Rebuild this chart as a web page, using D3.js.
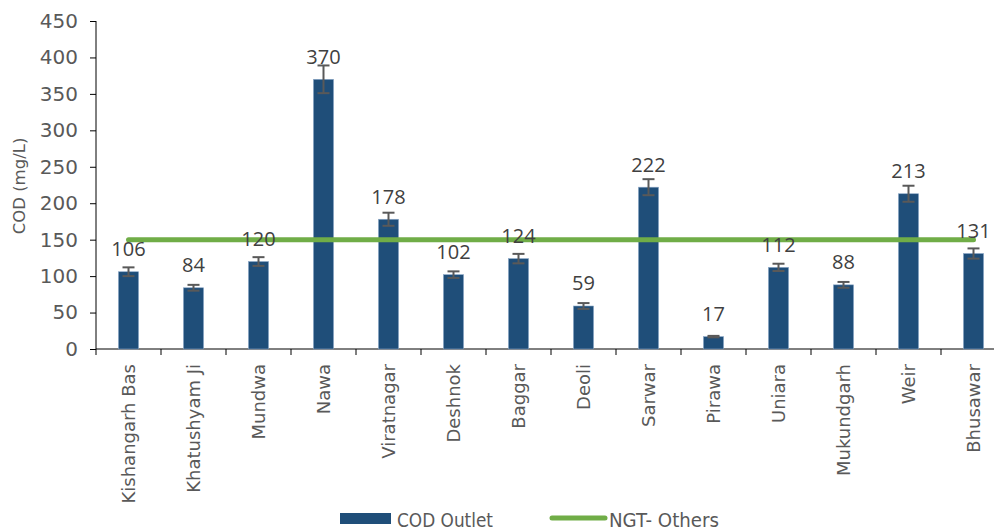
<!DOCTYPE html>
<html><head><meta charset="utf-8">
<script src="https://cdn.jsdelivr.net/npm/d3@7"></script>
<style>
body{margin:0;background:#fff;}
svg{display:block;}
</style></head>
<body>
<svg id="chart" width="994" height="530"></svg>
<script>
const categories = ["Kishangarh Bas","Khatushyam Ji","Mundwa","Nawa","Viratnagar","Deshnok","Baggar","Deoli","Sarwar","Pirawa","Uniara","Mukundgarh","Weir","Bhusawar"];
const codOutlet = [106,84,120,370,178,102,124,59,222,17,112,88,213,131];
const codError = [6,4,6,19,9,4.5,6.5,4,11,1,5,4,11,7];
const ngtOthers = [150,150,150,150,150,150,150,150,150,150,150,150,150,150];
const yTicks = [0,50,100,150,200,250,300,350,400,450];

const svg = d3.select("#chart");
const font = "'DejaVu Sans', sans-serif";
const vfont = "'Open Sans', sans-serif";
const x = d3.scaleBand().domain(categories).range([96,1006]).paddingInner(0.69).paddingOuter(0.345);
const y = d3.scaleLinear().domain([0,450]).range([349,21]);

// y axis
const ya = svg.append("g").attr("transform","translate(96,0)")
  .call(d3.axisLeft(y).tickValues(yTicks).tickSize(6).tickPadding(12));
ya.select(".domain").attr("stroke","#000").attr("d","M-0,21V349");
ya.selectAll(".tick line").attr("stroke","#000");
ya.selectAll(".tick text").attr("font-family",font).attr("font-size",20).attr("fill","#595959");

// x axis
const xPos = d3.scaleLinear().domain([0,14]).range([96,1006]);
const xa = svg.append("g").attr("transform","translate(0,349)")
  .call(d3.axisBottom(x).tickSize(0).tickPadding(0));
xa.select(".domain").attr("stroke","#000").attr("d","M96,0H1006");
xa.selectAll(".tick text").attr("font-family",font).attr("font-size",18).attr("fill","#595959")
  .attr("transform","rotate(-90)").attr("text-anchor","end").attr("x",-15).attr("y",0).attr("dy","0.35em");
svg.append("g").selectAll("line").data(d3.range(15)).join("line")
  .attr("x1",d=>xPos(d)).attr("x2",d=>xPos(d)).attr("y1",349).attr("y2",355).attr("stroke","#000");

// y label
svg.append("text").attr("transform","translate(25,186) rotate(-90)").attr("text-anchor","middle")
  .attr("font-family",font).attr("font-size",16.5).attr("fill","#595959").text("COD (mg/L)");

// bars
svg.append("g").selectAll("rect").data(categories).join("rect")
  .attr("x",d=>x(d)).attr("width",x.bandwidth())
  .attr("y",(d,i)=>y(codOutlet[i])).attr("height",(d,i)=>y(0)-y(codOutlet[i]))
  .attr("fill","#1F4E79").attr("stroke","#8EA9C8").attr("stroke-width",0.6);

// error bars
const eg = svg.append("g").attr("stroke","#595959").attr("stroke-width",2);
categories.forEach((c,i)=>{
  const cx = x(c)+x.bandwidth()/2;
  const t = y(codOutlet[i]+codError[i]), b = y(codOutlet[i]-codError[i]);
  eg.append("line").attr("x1",cx).attr("x2",cx).attr("y1",t).attr("y2",b);
  eg.append("line").attr("x1",cx-6).attr("x2",cx+6).attr("y1",t).attr("y2",t);
  eg.append("line").attr("x1",cx-6).attr("x2",cx+6).attr("y1",b).attr("y2",b);
});

// NGT line
const line = d3.line().x((d,i)=>x(categories[i])+x.bandwidth()/2).y(d=>y(d));
svg.append("path").datum(ngtOthers).attr("d",line).attr("fill","none")
  .attr("stroke","#70AD47").attr("stroke-width",5).attr("stroke-linecap","round");

// value labels
svg.append("g").selectAll("text").data(categories).join("text")
  .attr("x",d=>x(d)+x.bandwidth()/2).attr("y",(d,i)=>y(codOutlet[i])-15.5)
  .attr("text-anchor","middle").attr("font-family",vfont).attr("font-size",20).attr("fill","#404040")
  .text((d,i)=>codOutlet[i]);

// legend
svg.append("rect").attr("x",340).attr("y",513).attr("width",51).attr("height",11).attr("fill","#1F4E79");
svg.append("text").attr("x",397).attr("y",527).attr("font-family",font).attr("font-size",19)
  .attr("textLength",96).attr("lengthAdjust","spacingAndGlyphs").attr("fill","#595959").text("COD Outlet");
svg.append("line").attr("x1",552).attr("x2",605).attr("y1",518).attr("y2",518)
  .attr("stroke","#70AD47").attr("stroke-width",5).attr("stroke-linecap","round");
svg.append("text").attr("x",609).attr("y",527).attr("font-family",font).attr("font-size",19)
  .attr("textLength",110).attr("lengthAdjust","spacingAndGlyphs").attr("fill","#595959").text("NGT- Others");
</script>
</body></html>
